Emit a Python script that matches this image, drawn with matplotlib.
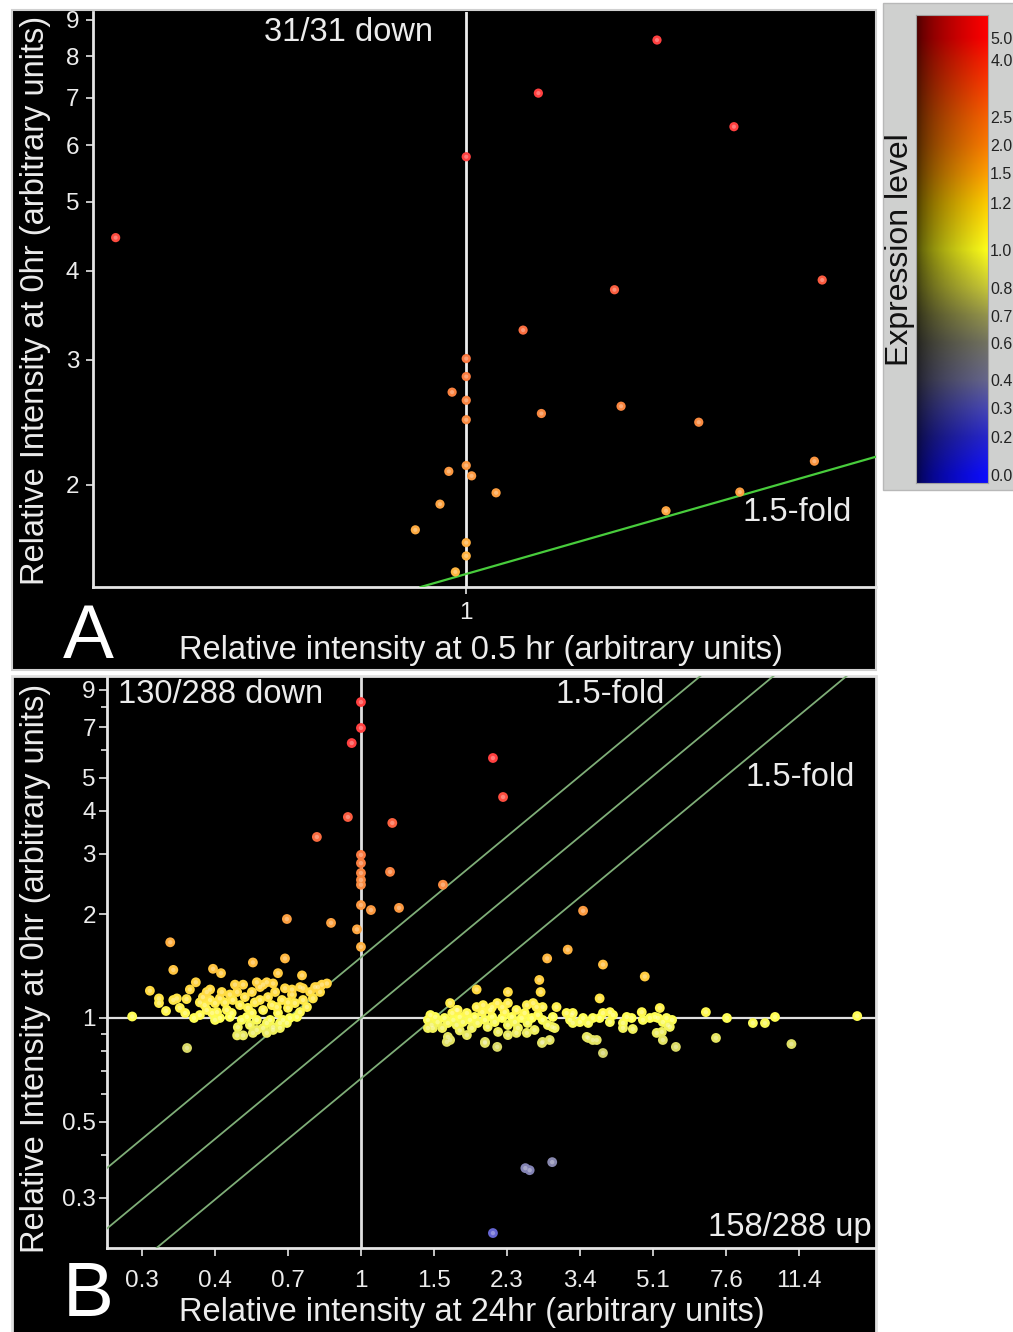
import numpy as np
import matplotlib
matplotlib.use('Agg')
import matplotlib.pyplot as plt
from matplotlib.patches import Rectangle
from matplotlib.ticker import NullLocator

plt.rcParams['font.family'] = ['Liberation Sans Narrow', 'Liberation Sans', 'DejaVu Sans']

# ---- colour scale (Expression level) ----
cbar_levels = [0.0, 0.2, 0.3, 0.4, 0.6, 0.7, 0.8, 1.0, 1.2, 1.5, 2.0, 2.5, 4.0, 5.0]
cbar_labels = ['0.0', '0.2', '0.3', '0.4', '0.6', '0.7', '0.8', '1.0',
               '1.2', '1.5', '2.0', '2.5', '4.0', '5.0']
level_rgb = [(0.05, 0.05, 1.0), (0.15, 0.15, 0.8), (0.28, 0.28, 0.7), (0.4, 0.4, 0.55),
             (0.45, 0.45, 0.38), (0.58, 0.58, 0.3), (0.78, 0.78, 0.22), (1.0, 1.0, 0.1),
             (1.0, 0.8, 0.0), (1.0, 0.62, 0.0), (0.98, 0.48, 0.0), (0.97, 0.38, 0.0),
             (0.98, 0.12, 0.0), (1.0, 0.0, 0.0)]

# ---- panel A: 0.5 hr vs 0 hr ----
a_x = [0.723, 1.00, 1.069, 1.193, 1.281, 1.147, 1.39, 1.054, 1.00, 1.00, 0.987, 1.00, 1.00, 1.072,
       1.154, 1.24, 1.38, 1.00, 1.005, 0.984, 1.028, 0.976, 0.954, 1.288, 1.203, 1.00, 1.00, 0.99]
a_y = [4.45, 5.78, 7.10, 8.43, 6.37, 3.76, 3.88, 3.30, 3.01, 2.84, 2.70, 2.63, 2.47, 2.52,
       2.58, 2.45, 2.16, 2.13, 2.06, 2.09, 1.95, 1.88, 1.73, 1.955, 1.84, 1.66, 1.59, 1.51]
a_yticks = [2, 3, 4, 5, 6, 7, 8, 9]

# ---- panel B: 24 hr vs 0 hr ----
b_up_x = [1.00, 1.00, 0.95, 2.08, 2.20, 0.93, 1.19, 0.783, 1.00, 1.00, 1.00, 1.00, 1.00, 1.175,
          1.576, 1.00, 1.057, 1.235, 0.663, 0.847, 0.978, 1.00, 3.43, 3.15, 2.81, 3.83, 4.83]
b_up_y = [8.29, 6.97, 6.30, 5.70, 4.39, 3.84, 3.69, 3.36, 2.98, 2.82, 2.64, 2.52, 2.44, 2.66,
          2.44, 2.13, 2.06, 2.09, 1.94, 1.89, 1.81, 1.61, 2.05, 1.58, 1.49, 1.43, 1.32]

b_left_x = [0.347, 0.353, 0.310, 0.281, 0.326, 0.326, 0.353, 0.339, 0.381, 0.400, 0.387, 0.380,
            0.396, 0.440, 0.460, 0.433, 0.457, 0.549, 0.656, 0.631, 0.721, 0.713, 0.788, 0.828,
            0.797, 0.505, 0.503, 0.614, 0.581, 0.409, 0.420, 0.433, 0.445, 0.457, 0.470, 0.483,
            0.491, 0.503, 0.511, 0.525, 0.534, 0.546, 0.555, 0.571, 0.581, 0.593, 0.597, 0.610,
            0.621, 0.631, 0.645, 0.656, 0.667, 0.682, 0.693, 0.701, 0.663, 0.638, 0.604, 0.561,
            0.540, 0.531, 0.488, 0.475, 0.450, 0.425, 0.409, 0.416, 0.425, 0.497, 0.520, 0.561,
            0.581, 0.614, 0.725, 0.754, 0.766, 0.725, 0.741, 0.674, 0.593, 0.561, 0.520, 0.614,
            0.649, 0.360, 0.377, 0.483, 0.366, 0.438, 0.462, 0.546, 0.571, 0.627, 0.682, 0.775,
            0.805, 0.667, 0.713, 0.516, 0.445, 0.549, 0.593, 0.638]
b_left_y = [1.66, 1.38, 1.20, 1.01, 1.14, 1.105, 1.128, 1.048, 0.818, 1.27, 1.21, 1.135,
            1.00, 1.39, 1.35, 1.21, 1.00, 1.45, 1.49, 1.35, 1.33, 1.23, 1.23, 1.26,
            1.19, 0.94, 0.89, 0.94, 0.935, 1.11, 1.09, 1.128, 1.105, 1.14, 1.11, 1.17,
            1.128, 1.19, 1.09, 1.15, 1.07, 1.19, 1.11, 1.23, 1.055, 1.27, 1.15, 1.09,
            1.19, 1.034, 1.128, 1.22, 1.07, 1.17, 1.105, 1.007, 0.967, 0.935, 0.987, 0.987,
            0.954, 1.007, 1.034, 1.055, 1.04, 1.055, 1.02, 1.15, 1.19, 1.25, 1.25, 1.27,
            1.25, 1.26, 1.22, 1.19, 1.14, 1.128, 1.076, 1.00, 0.967, 0.923, 0.89, 0.923,
            0.987, 1.14, 1.034, 1.007, 1.07, 1.034, 1.19, 1.034, 1.128, 1.076, 1.21, 1.23,
            1.25, 1.11, 1.04, 0.987, 0.987, 0.905, 0.905, 0.967]

b_right_x = [1.90, 2.26, 2.26, 1.97, 2.13, 2.07, 2.51, 2.60, 2.74, 1.70, 2.69, 2.71, 3.76,
             1.45, 1.64, 1.73, 1.99, 2.13, 2.37, 2.74, 2.85, 2.89, 3.13, 3.22, 3.37, 3.50,
             3.62, 3.83, 3.62, 3.83, 3.98, 3.76, 4.28, 4.52, 4.49, 4.75, 4.97, 5.25, 5.20,
             5.31, 5.49, 5.62, 5.74, 6.78, 7.17, 7.62, 8.80, 9.41, 9.95, 10.9, 15.7,
             1.45, 1.48, 1.51, 1.53, 1.57, 1.59, 1.62, 1.66, 1.67, 1.70, 1.73, 1.76, 1.80,
             1.83, 1.85, 1.88, 1.91, 1.96, 1.99, 2.02, 2.07, 2.10, 2.14, 2.19, 2.22, 2.26,
             2.31, 2.35, 2.39, 2.44, 2.48, 2.52, 2.58, 2.62, 2.67, 2.74, 2.82, 2.90, 2.93,
             1.49, 1.47, 1.71, 1.90, 2.05, 2.19, 2.37, 2.51, 2.26, 1.80, 1.62, 1.61, 1.99,
             2.73, 3.19, 3.24, 3.43, 3.53, 3.98, 4.05, 4.28, 4.37, 4.78, 5.11, 5.34, 5.45,
             5.55, 5.34, 5.16, 3.70, 3.53, 1.64, 2.65, 2.96, 3.24]
b_right_y = [1.21, 1.19, 1.105, 1.09, 1.105, 1.076, 1.09, 1.105, 1.076, 1.055, 1.29, 1.19, 1.14,
             0.935, 0.863, 0.92, 0.852, 0.824, 0.905, 0.852, 0.863, 0.942, 1.034, 1.02, 0.973, 0.881,
             0.863, 0.791, 1.00, 1.034, 1.04, 1.00, 0.935, 0.929, 1.00, 1.04, 1.00, 1.069, 1.00,
             0.911, 0.954, 0.987, 0.824, 1.04, 0.875, 1.00, 0.967, 0.967, 1.007, 0.84, 1.013,
             0.987, 0.954, 1.007, 0.973, 0.935, 1.00, 0.967, 1.034, 0.987, 0.954, 1.007, 0.973, 1.034,
             0.987, 0.935, 1.007, 0.967, 1.04, 0.987, 0.942, 1.007, 0.973, 0.911, 1.00, 1.04, 0.954,
             1.007, 0.973, 0.935, 1.00, 1.034, 0.967, 1.00, 0.923, 1.02, 0.987, 0.954, 1.007, 0.935,
             0.935, 1.02, 1.055, 1.076, 1.055, 1.076, 1.055, 0.905, 0.892, 0.892, 0.881, 0.852, 0.846,
             0.846, 0.987, 0.967, 1.00, 0.967, 0.973, 1.02, 0.967, 1.007, 0.987, 1.007, 0.973, 1.00,
             0.942, 0.863, 0.905, 0.863, 0.875, 1.105, 1.076, 1.076, 1.034]

b_low_x = [2.49, 2.55, 2.89, 2.08]
b_low_y = [0.366, 0.361, 0.381, 0.237]

b_xticks = [0.296, 0.444, 0.667, 1.0, 1.5, 2.25, 3.375, 5.06, 7.59, 11.39]
b_xlabels = ['0.3', '0.4', '0.7', '1', '1.5', '2.3', '3.4', '5.1', '7.6', '11.4']
b_yticks = [0.3, 0.5, 1, 2, 3, 4, 5, 7, 9]
b_yminor = [0.4, 0.6, 0.7, 0.8, 0.9, 6, 8]
fold = 1.5


def expr_color(v, lighten=0.0):
    rgb = np.array([np.interp(v, cbar_levels, ch) for ch in zip(*level_rgb)])
    return tuple(rgb + (1 - rgb) * lighten)


def style_axes(ax):
    ax.patch.set_visible(False)
    ax.set_xscale('log')
    ax.set_yscale('log')
    for s in ['top', 'right']:
        ax.spines[s].set_visible(False)
    for s in ['left', 'bottom']:
        ax.spines[s].set_color('#e6e6e6')
        ax.spines[s].set_linewidth(2)
    ax.xaxis.set_minor_locator(NullLocator())
    ax.yaxis.set_minor_locator(NullLocator())
    ax.tick_params(which='both', colors='#e6e6e6', labelcolor='#ececec',
                   labelsize=17.5, width=1.2, length=5)


def dots(ax, xs, ys, s=50):
    cols = [expr_color(v, 0.25) for v in ys]
    ax.scatter(xs, ys, s=s, c=cols, edgecolors='none', zorder=4)
    ax.scatter(xs, ys, s=s * 0.2, c='white', alpha=0.3, edgecolors='none', zorder=5)


fig = plt.figure(figsize=(10.13, 13.32), dpi=100)
fig.patch.set_facecolor('white')

# black panel backgrounds
fig.add_artist(Rectangle((0.0118, 0.497), 0.853, 0.4955, transform=fig.transFigure,
                         facecolor='black', edgecolor='#d0d0d0', lw=1.5, zorder=-1))
fig.add_artist(Rectangle((0.0118, -0.01), 0.853, 0.5025, transform=fig.transFigure,
                         facecolor='black', edgecolor='#e0e0e0', lw=2, zorder=-1))

# ---------- panel A ----------
axA = fig.add_axes([0.0918, 0.5593, 0.773, 0.4317])
style_axes(axA)
axA.set_xlim(0.708, 1.461)
axA.set_ylim(1.438, 9.23)
axA.set_yticks(a_yticks, [str(t) for t in a_yticks])
axA.set_xticks([1], ['1'])
axA.tick_params(axis='y', pad=5)
axA.tick_params(axis='x', pad=6)
axA.axvline(1, color='#ececec', lw=2, zorder=2)
axA.axline((1, fold), (2, 2 * fold), color='#48cc3c', lw=1.6, zorder=3)
dots(axA, a_x, a_y, s=44)
txt = dict(color='#ececec', fontsize=23.5, va='center')
axA.text(0.326, 0.965, '31/31 down', transform=axA.transAxes, ha='center', **txt)
axA.text(0.899, 0.129, '1.5-fold', transform=axA.transAxes, ha='center', **txt)

# ---------- panel B ----------
axB = fig.add_axes([0.1056, 0.0631, 0.7591, 0.4294])
style_axes(axB)
axB.set_xlim(0.2443, 17.42)
axB.set_ylim(0.2145, 9.87)
axB.set_xticks(b_xticks, b_xlabels)
axB.set_yticks(b_yticks, [f'{t:g}' for t in b_yticks])
axB.set_yticks(b_yminor, minor=True)
axB.yaxis.set_minor_formatter(plt.NullFormatter())
axB.tick_params(axis='y', pad=2, length=6)
axB.tick_params(axis='y', which='minor', length=4)
axB.tick_params(axis='x', pad=10, length=6)
axB.axvline(1, color='#e0e0e0', lw=2, zorder=2)
axB.axhline(1, color='#e0e0e0', lw=1.6, zorder=2)
for f in [fold, 1.0, 1 / fold]:
    axB.axline((1, f), (2, 2 * f), color='#7fae78', lw=1.3, zorder=3)
dots(axB, b_left_x, b_left_y)
dots(axB, b_right_x, b_right_y)
dots(axB, b_up_x, b_up_y)
dots(axB, b_low_x, b_low_y)
axB.text(0.0143, 0.967, '130/288 down', transform=axB.transAxes, ha='left', **txt)
axB.text(0.654, 0.967, '1.5-fold', transform=axB.transAxes, ha='center', **txt)
axB.text(0.902, 0.822, '1.5-fold', transform=axB.transAxes, ha='center', **txt)
axB.text(0.888, 0.035, '158/288 up', transform=axB.transAxes, ha='center', **txt)

# axis labels and panel letters
lab = dict(color='#ececec', fontsize=23.5, ha='center', va='center')
fig.text(0.4748, 0.5113, 'Relative intensity at 0.5 hr (arbitrary units)', **lab)
fig.text(0.466, 0.0143, 'Relative intensity at 24hr (arbitrary units)', **lab)
fig.text(0.0346, 0.7748, 'Relative Intensity at 0hr (arbitrary units)', rotation=90, **lab)
fig.text(0.0346, 0.2733, 'Relative Intensity at 0hr (arbitrary units)', rotation=90, **lab)
fig.text(0.0869, 0.521, 'A', color='white', fontsize=55, ha='center', va='center')
fig.text(0.0869, 0.0263, 'B', color='white', fontsize=55, ha='center', va='center')

# ---------- colour bar ----------
fig.add_artist(Rectangle((0.8717, 0.6321), 0.14, 0.3656, transform=fig.transFigure,
                         facecolor='#cfd0cf', edgecolor='#b8b8b8', lw=1, zorder=-1))
cbar_pos = [0.017, 0.098, 0.160, 0.220, 0.299, 0.357, 0.417, 0.498,
            0.598, 0.662, 0.722, 0.782, 0.904, 0.951]
cax = fig.add_axes([0.9043, 0.6374, 0.0711, 0.3514])
rows = np.linspace(0, 1, 400)
row_vals = np.interp(rows, cbar_pos, cbar_levels)
row_cols = np.array([expr_color(v) for v in row_vals])
t = np.linspace(0, 1, 60)
bright = 0.25 + 0.75 * t ** 0.6
img = row_cols[:, None, :] * bright[None, :, None]
cax.imshow(img, origin='lower', extent=[0, 1, 0, 1], aspect='auto')
cax.set_xticks([])
cax.yaxis.tick_right()
cax.set_yticks(cbar_pos, cbar_labels)
cax.tick_params(axis='y', length=0, pad=1.5, labelsize=11.5, labelcolor='#222222')
for s in cax.spines.values():
    s.set_color('#a0a0a0')
    s.set_linewidth(0.8)
fig.text(0.8885, 0.8123, 'Expression level', rotation=90, color='#111111',
         fontsize=23, ha='center', va='center')

fig.savefig('out.png', dpi=100, facecolor='white')
